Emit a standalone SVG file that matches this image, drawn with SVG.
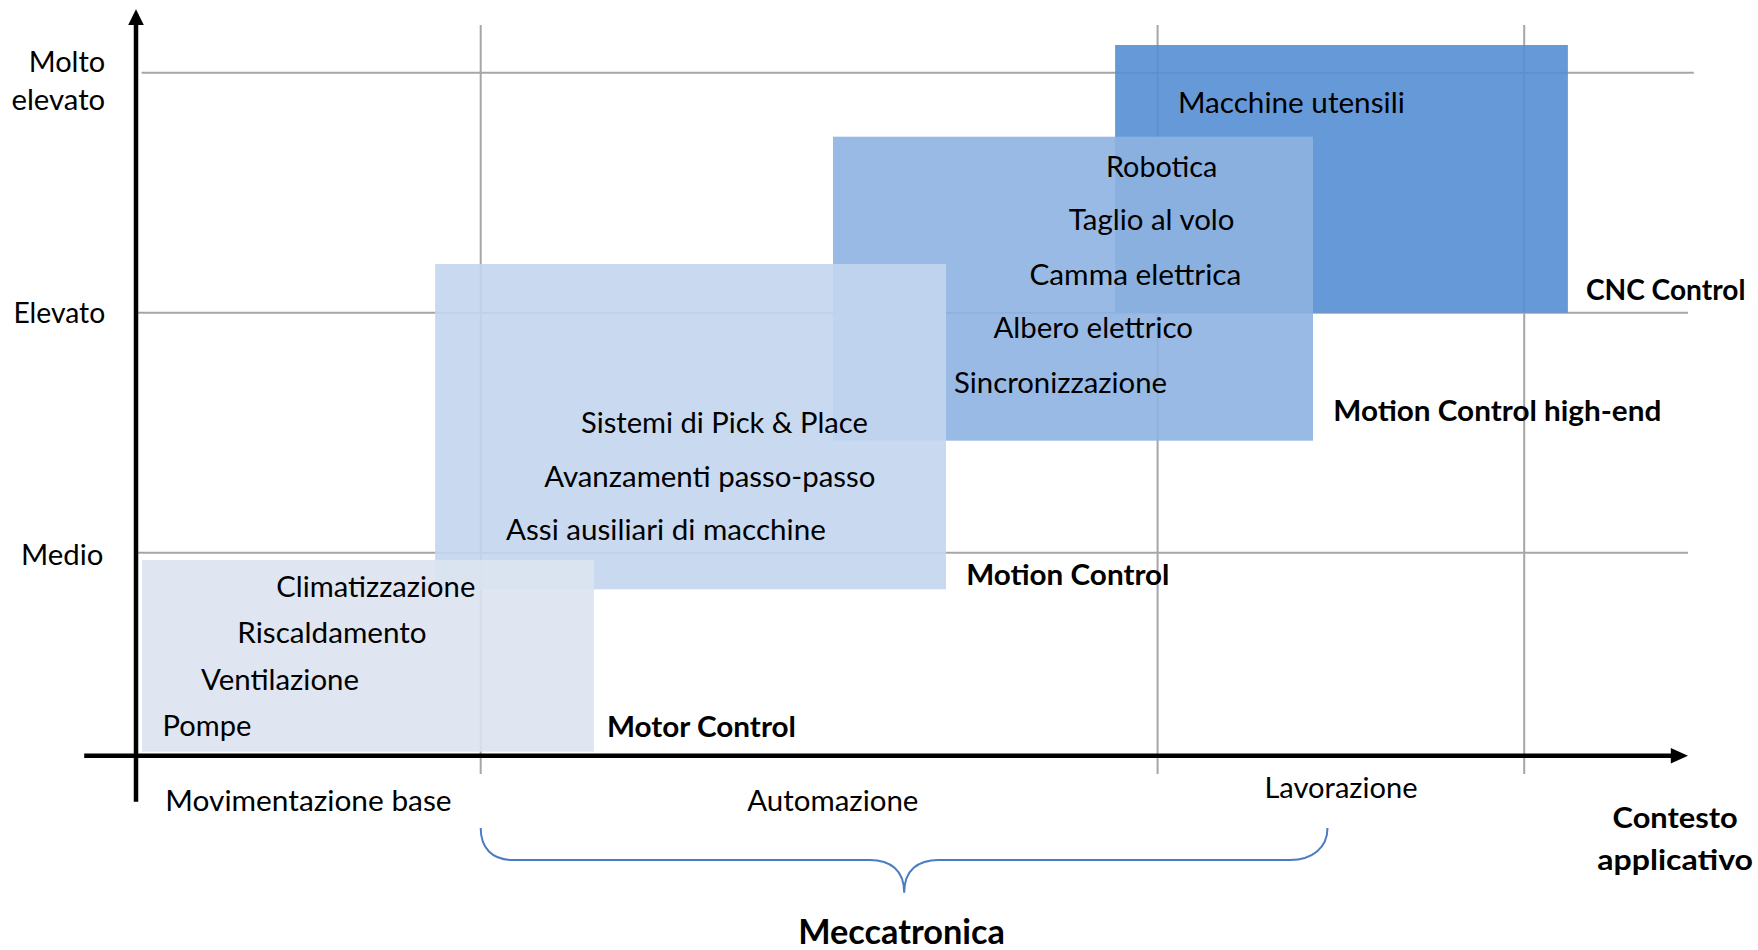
<svg xmlns="http://www.w3.org/2000/svg" width="1758" height="950" viewBox="0 0 1758 950">
<style>
text{font-family:Lato,"Open Sans","Liberation Sans",sans-serif;font-size:29px;fill:#000}
.b{font-weight:bold}
.big{font-size:35px}
.grid{stroke:#a6a6a6;stroke-width:2;fill:none}
.axis{stroke:#000;stroke-width:4.5;fill:none}
.brace{stroke:#4a7cc4;stroke-width:2;fill:none}
.box{fill-opacity:0.9}
</style>
<rect width="1758" height="950" fill="#fff"/>
<g id="grid">
<line class="grid" x1="141.6" y1="72.7" x2="1693.8" y2="72.7"/>
<line class="grid" x1="137.8" y1="312.7" x2="1688" y2="312.7"/>
<line class="grid" x1="137.8" y1="552.7" x2="1688" y2="552.7"/>
<line class="grid" x1="480.7" y1="25" x2="480.7" y2="774"/>
<line class="grid" x1="1157.6" y1="25" x2="1157.6" y2="774"/>
<line class="grid" x1="1524.2" y1="25" x2="1524.2" y2="774"/>
</g>
<g id="cnc">
<rect class="box" x="1115.1" y="45" width="452.8" height="267.7" fill="#558ed4"/>
<text x="1177.9" y="113.3" textLength="226.9" lengthAdjust="spacingAndGlyphs">Macchine utensili</text>
<text class="b" x="1585.9" y="300" textLength="159.5" lengthAdjust="spacingAndGlyphs">CNC Control</text>
</g>
<g id="highend">
<rect class="box" x="833" y="136.7" width="480" height="304" fill="#8eb2e1"/>
<text x="1106" y="176.7" textLength="111.3" lengthAdjust="spacingAndGlyphs">Robotica</text>
<text x="1068.8" y="230" textLength="165.7" lengthAdjust="spacingAndGlyphs">Taglio al volo</text>
<text x="1029.4" y="285" textLength="212" lengthAdjust="spacingAndGlyphs">Camma elettrica</text>
<text x="993.4" y="338.3" textLength="199.6" lengthAdjust="spacingAndGlyphs">Albero elettrico</text>
<text x="954" y="393.3" textLength="213" lengthAdjust="spacingAndGlyphs">Sincronizzazione</text>
<text class="b" x="1333.3" y="420.7" textLength="328" lengthAdjust="spacingAndGlyphs">Motion Control high-end</text>
</g>
<g id="motion">
<rect class="box" x="435.1" y="264" width="510.9" height="325.3" fill="#c3d6ee"/>
<text x="581" y="432.7" textLength="286.9" lengthAdjust="spacingAndGlyphs">Sistemi di Pick &amp; Place</text>
<text x="544.2" y="486.7" textLength="331.3" lengthAdjust="spacingAndGlyphs">Avanzamenti passo-passo</text>
<text x="506" y="540" textLength="319.8" lengthAdjust="spacingAndGlyphs">Assi ausiliari di macchine</text>
<text class="b" x="966.2" y="585" textLength="203.3" lengthAdjust="spacingAndGlyphs">Motion Control</text>
</g>
<g id="motor">
<rect class="box" x="142" y="560" width="452" height="191.7" fill="#dbe3ef"/>
<text x="276.3" y="596.7" textLength="199" lengthAdjust="spacingAndGlyphs">Climatizzazione</text>
<text x="237.3" y="643" textLength="189.4" lengthAdjust="spacingAndGlyphs">Riscaldamento</text>
<text x="201" y="690" textLength="158" lengthAdjust="spacingAndGlyphs">Ventilazione</text>
<text x="162.6" y="736" textLength="88.8" lengthAdjust="spacingAndGlyphs">Pompe</text>
<text class="b" x="606.9" y="737.3" textLength="189.1" lengthAdjust="spacingAndGlyphs">Motor Control</text>
</g>
<g id="connectors">
<line class="axis" x1="136" y1="801.7" x2="136" y2="20"/>
<polygon points="128.2,25 136,9.3 143.8,25" fill="#000"/>
<line class="axis" x1="84.2" y1="755.7" x2="1675" y2="755.7"/>
<polygon points="1670.8,748 1688,755.7 1670.8,763.4" fill="#000"/>
<path class="brace" d="M480.7,828 C480.7,848 492,860 512.8,860 L869.8,860 C890,860 904.2,870 904.2,892.7 C904.2,870 918,860 938.7,860 L1290,860 C1312,860 1327.5,848 1327.5,828"/>
</g>
<g id="labels">
<text x="28.7" y="72" textLength="76.5" lengthAdjust="spacingAndGlyphs">Molto</text>
<text x="11.5" y="110" textLength="93.7" lengthAdjust="spacingAndGlyphs">elevato</text>
<text x="13.4" y="323" textLength="91.8" lengthAdjust="spacingAndGlyphs">Elevato</text>
<text x="21" y="565" textLength="82.3" lengthAdjust="spacingAndGlyphs">Medio</text>
<text x="165.3" y="810.7" textLength="286.3" lengthAdjust="spacingAndGlyphs">Movimentazione base</text>
<text x="747.3" y="810.7" textLength="171.1" lengthAdjust="spacingAndGlyphs">Automazione</text>
<text x="1264.4" y="798.3" textLength="153.1" lengthAdjust="spacingAndGlyphs">Lavorazione</text>
<text class="b" x="1612.6" y="828.3" textLength="125.2" lengthAdjust="spacingAndGlyphs">Contesto</text>
<text class="b" x="1597.3" y="870" textLength="155.7" lengthAdjust="spacingAndGlyphs">applicativo</text>
<text class="b big" x="798.2" y="944" textLength="206.7" lengthAdjust="spacingAndGlyphs">Meccatronica</text>
</g>
</svg>
